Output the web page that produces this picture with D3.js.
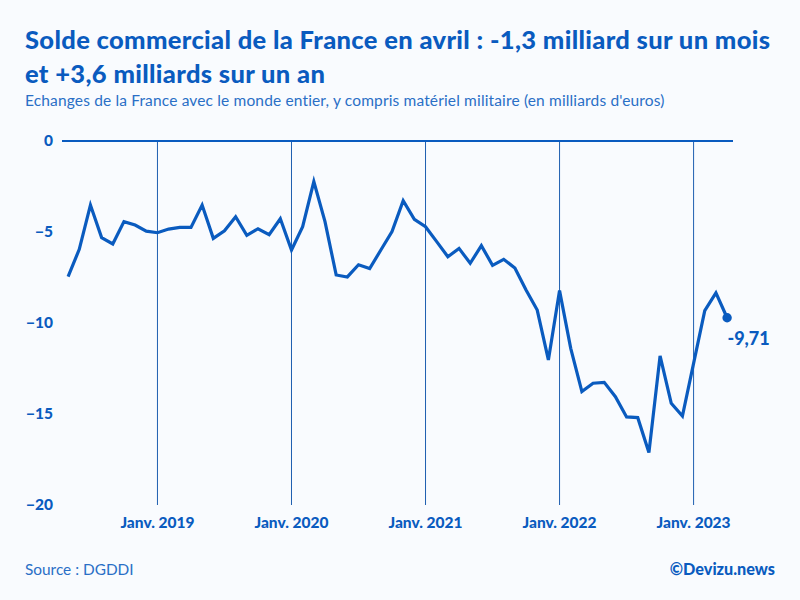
<!DOCTYPE html>
<html>
<head>
<meta charset="utf-8">
<script src="https://cdn.jsdelivr.net/npm/d3@7"></script>
<style>
  html, body { margin: 0; padding: 0; background: #f9fbfe; }
  text { font-family: Lato, sans-serif; fill: #0a5bbf; }
  .title { font-size: 25.5px; font-weight: 900; letter-spacing: 0.34px; }
  .subtitle { font-size: 15.5px; letter-spacing: 0.15px; fill: #2a6fc6; }
  .source { font-size: 15.4px; fill: #2a6fc6; }
  .axis text { font-size: 15.5px; font-weight: 900; }
  .axis .tick line { stroke: #1f5fb0; }
</style>
</head>
<body>
<div id="chart"></div>
<script>
const months = [
  '2018-05', '2018-06', '2018-07', '2018-08', '2018-09', '2018-10', '2018-11', '2018-12',
  '2019-01', '2019-02', '2019-03', '2019-04', '2019-05', '2019-06', '2019-07', '2019-08', '2019-09', '2019-10', '2019-11', '2019-12',
  '2020-01', '2020-02', '2020-03', '2020-04', '2020-05', '2020-06', '2020-07', '2020-08', '2020-09', '2020-10', '2020-11', '2020-12',
  '2021-01', '2021-02', '2021-03', '2021-04', '2021-05', '2021-06', '2021-07', '2021-08', '2021-09', '2021-10', '2021-11', '2021-12',
  '2022-01', '2022-02', '2022-03', '2022-04', '2022-05', '2022-06', '2022-07', '2022-08', '2022-09', '2022-10', '2022-11', '2022-12',
  '2023-01', '2023-02', '2023-03', '2023-04'
]
const balance = [
  -7.45, -5.95, -3.52, -5.31, -5.66, -4.43, -4.62, -4.95,
  -5.04, -4.84, -4.75, -4.75, -3.52, -5.35, -4.93, -4.16, -5.18, -4.82, -5.15, -4.27,
  -5.99, -4.71, -2.23, -4.43, -7.36, -7.47, -6.8, -7.01, -5.99, -4.98, -3.28, -4.3,
  -4.71, -5.53, -6.36, -5.9, -6.72, -5.75, -6.83, -6.5, -6.98, -8.19, -9.29, -12.03,
  -8.22, -11.39, -13.77, -13.31, -13.26, -14.05, -15.16, -15.2, -17.12, -11.81, -14.41, -15.11,
  -12.22, -9.32, -8.34, -9.71
]
const yTicks = [0, -5, -10, -15, -20]
const xTicks = ['2019-01', '2020-01', '2021-01', '2022-01', '2023-01']
const xTickLabels = ['Janv. 2019', 'Janv. 2020', 'Janv. 2021', 'Janv. 2022', 'Janv. 2023']
const lastLabel = '-9,71'

const margin = { top: 141, left: 62, right: 67, bottom: 95 }
const height = 600 - margin.top - margin.bottom
const width = 800 - margin.left - margin.right
const color = '#0a5bbf'

const svg = d3.select('#chart')
  .append('svg')
  .attr('width', 800)
  .attr('height', 600)
  .style('display', 'block')

svg.append('text').attr('class', 'title').attr('x', 25).attr('y', 49)
  .text('Solde commercial de la France en avril : -1,3 milliard sur un mois')
svg.append('text').attr('class', 'title').attr('x', 25).attr('y', 83)
  .text('et +3,6 milliards sur un an')
svg.append('text').attr('class', 'subtitle').attr('x', 25).attr('y', 106)
  .text("Echanges de la France avec le monde entier, y compris matériel militaire (en milliards d'euros)")

const g = svg.append('g')
  .attr('transform', `translate(${margin.left}, ${margin.top})`)

// months sit on a point scale, the first one starts a bit inside the zero line
const xPositionScale = d3.scalePoint()
  .domain(months)
  .range([6.1, 665.1])

const yPositionScale = d3.scaleLinear()
  .domain([0, -20])
  .range([0, height])

const xAxis = d3.axisBottom(xPositionScale)
  .tickValues(xTicks)
  .tickSize(-height)
  .tickPadding(12)
  .offset(0)
  .tickFormat((d, i) => xTickLabels[i])

g.append('g')
  .attr('class', 'axis x-axis')
  .attr('transform', `translate(0, ${height})`)
  .call(xAxis)
  .call(s => s.select('.domain').remove())

const yAxis = d3.axisLeft(yPositionScale)
  .tickValues(yTicks)
  .tickSize(0)
  .tickPadding(9)
  .offset(0)
  .tickFormat(d => (d < 0 ? '−' + Math.abs(d) : d))

g.append('g')
  .attr('class', 'axis y-axis')
  .call(yAxis)
  .call(s => s.select('.domain').remove())

g.append('line')
  .attr('x1', 0)
  .attr('x2', width)
  .attr('y1', yPositionScale(0))
  .attr('y2', yPositionScale(0))
  .attr('stroke', color)
  .attr('stroke-width', 2)

const line = d3.line()
  .x((d, i) => xPositionScale(months[i]))
  .y(d => yPositionScale(d))

g.append('path')
  .datum(balance)
  .attr('d', line)
  .attr('fill', 'none')
  .attr('stroke', color)
  .attr('stroke-width', 3.2)
  .attr('stroke-linejoin', 'miter')

const lastMonth = months[months.length - 1]
const lastValue = balance[balance.length - 1]

g.append('circle')
  .attr('cx', xPositionScale(lastMonth))
  .attr('cy', yPositionScale(lastValue))
  .attr('r', 4.7)
  .attr('fill', color)

g.append('text')
  .attr('x', xPositionScale(lastMonth) + 21.5)
  .attr('y', yPositionScale(lastValue) + 27)
  .attr('text-anchor', 'middle')
  .style('font-size', '18px')
  .style('font-weight', 900)
  .text(lastLabel)

svg.append('text').attr('class', 'source').attr('x', 25).attr('y', 575)
  .text('Source : DGDDI')
svg.append('text').attr('x', 775).attr('y', 575)
  .attr('text-anchor', 'end')
  .style('font-size', '16.2px')
  .style('font-weight', 900)
  .text('©Devizu.news')
</script>
</body>
</html>
